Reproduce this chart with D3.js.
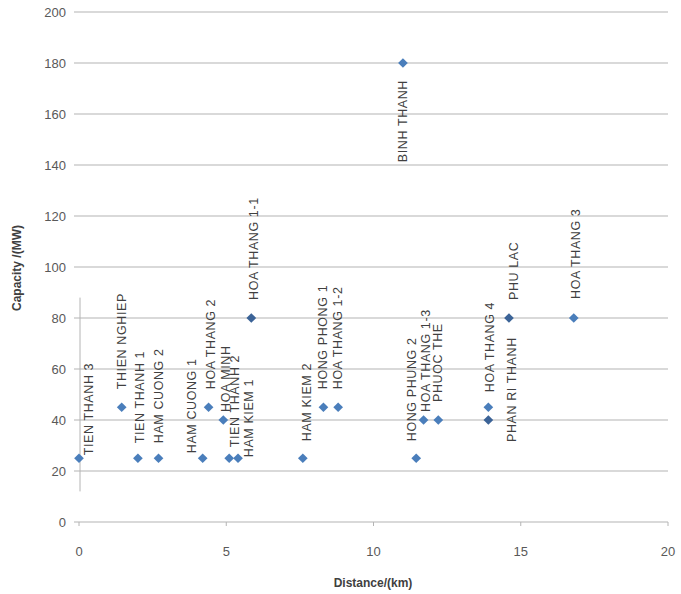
<!DOCTYPE html>
<html>
<head>
    <meta charset="UTF-8">
    <script src="https://cdn.jsdelivr.net/npm/d3@7/dist/d3.min.js"></script>
    <style>
        body { margin: 0; background: #fff; }
        svg text { font-family: "Liberation Sans", Arial, sans-serif; }
    </style>
</head>
<body>
<div id="chart"></div>
<script>
    // plants: name, distance (km), capacity (MW)
    var names = ["TIEN THANH 3", "THIEN NGHIEP", "TIEN THANH 1", "HAM CUONG 2", "HAM CUONG 1",
        "HOA THANG 2", "HOA MINH", "TIEN THANH 2", "HAM KIEM 1", "HOA THANG 1-1",
        "HAM KIEM 2", "HONG PHONG 1", "HOA THANG 1-2", "BINH THANH", "HONG PHUNG 2",
        "HOA THANG 1-3", "PHUOC THE", "HOA THANG 4", "PHAN RI THANH", "PHU LAC", "HOA THANG 3"];
    var distance = [0, 1.45, 2.0, 2.7, 4.2, 4.4, 4.9, 5.1, 5.4, 5.85,
        7.6, 8.3, 8.8, 11.0, 11.45, 11.7, 12.2, 13.9, 13.9, 14.6, 16.8];
    var capacity = [25, 45, 25, 25, 25, 45, 40, 25, 25, 80,
        25, 45, 45, 180, 25, 40, 40, 45, 40, 80, 80];
    var xTicks = [0, 5, 10, 15, 20];
    var yTicks = d3.range(0, 201, 20);

    // label placement (pixel offsets from the marker): dx, gap above marker
    var labelDx  = [10, 0, 2, 0, -11, 2, 2, 5, 11, 2, 4, -1, -1, 0, -5, 2, -1, 1, 23, 5, 2];
    var labelGap = [3, 18, 15, 15, 5, 18, 8, 11, 1, 18, 17, 18, 18, -17, 17, 8, 18, 15, -22, 18, 19];
    var labelBelow = [false, false, false, false, false, false, false, false, false, false,
        false, false, false, true, false, false, false, false, false, false, false];
    var darkMarker = ["HOA THANG 1-1", "PHAN RI THANH", "PHU LAC"];

    var W = 681, H = 594;
    var svg = d3.select("#chart").append("svg").attr("width", W).attr("height", H);

    var x = d3.scaleLinear().domain([0, 20]).range([79, 668]);
    var y = d3.scaleLinear().domain([0, 200]).range([522, 12]);

    // horizontal gridlines
    svg.append("g").selectAll("line").data(yTicks).enter().append("line")
        .attr("x1", x(0) - 5).attr("x2", x(20))
        .attr("y1", function(d) { return y(d); })
        .attr("y2", function(d) { return y(d); })
        .style("stroke", "#b4b4b4").style("stroke-width", 1.2);

    // y tick labels
    svg.append("g").selectAll("text").data(yTicks).enter().append("text")
        .attr("x", 66).attr("y", function(d) { return y(d); })
        .attr("dy", "0.35em").attr("text-anchor", "end")
        .style("font-size", "13px").style("fill", "#595959")
        .text(function(d) { return d; });

    // x axis ticks and labels
    svg.append("g").selectAll("line").data(xTicks).enter().append("line")
        .attr("x1", function(d) { return x(d); }).attr("x2", function(d) { return x(d); })
        .attr("y1", y(0)).attr("y2", y(0) + 4)
        .style("stroke", "#b4b4b4").style("stroke-width", 1);
    svg.append("g").selectAll("text").data(xTicks).enter().append("text")
        .attr("x", function(d) { return x(d); }).attr("y", 551)
        .attr("dy", "0.35em").attr("text-anchor", "middle")
        .style("font-size", "13px").style("fill", "#595959")
        .text(function(d) { return d; });

    // stray vertical line near the y axis
    svg.append("line")
        .attr("x1", x(0) + 1).attr("x2", x(0) + 1)
        .attr("y1", y(88)).attr("y2", y(12))
        .style("stroke", "#b4b4b4").style("stroke-width", 1);

    // axis titles
    svg.append("text")
        .attr("transform", "translate(21," + 268 + ") rotate(-90)")
        .attr("text-anchor", "middle")
        .style("font-size", "12px").style("font-weight", "bold").style("fill", "#404040")
        .text("Capacity /(MW)");
    svg.append("text")
        .attr("x", 373).attr("y", 587).attr("text-anchor", "middle")
        .style("font-size", "12px").style("font-weight", "bold").style("fill", "#404040")
        .text("Distance/(km)");

    var pts = names.map(function(n, i) {
        return {name: n, d: distance[i], c: capacity[i], dx: labelDx[i], gap: labelGap[i], below: labelBelow[i]};
    });

    // markers
    var diamond = d3.symbol().type(d3.symbolDiamond2).size(60);
    svg.append("g").selectAll("path").data(pts).enter().append("path")
        .attr("d", diamond)
        .attr("transform", function(d) { return "translate(" + x(d.d) + "," + y(d.c) + ")"; })
        .style("fill", function(d) { return darkMarker.indexOf(d.name) >= 0 ? "#3b6397" : "#4a7ebb"; });

    // rotated labels
    svg.append("g").selectAll("text").data(pts).enter().append("text")
        .attr("transform", function(d) {
            return "translate(" + (x(d.d) + d.dx) + "," + (y(d.c) - d.gap) + ") rotate(-90)";
        })
        .attr("dy", "0.35em")
        .attr("text-anchor", function(d) { return d.below ? "end" : "start"; })
        .style("font-size", "12.5px").style("letter-spacing", "0.6px").style("fill", "#404040")
        .text(function(d) { return d.name; });
</script>
</body>
</html>
